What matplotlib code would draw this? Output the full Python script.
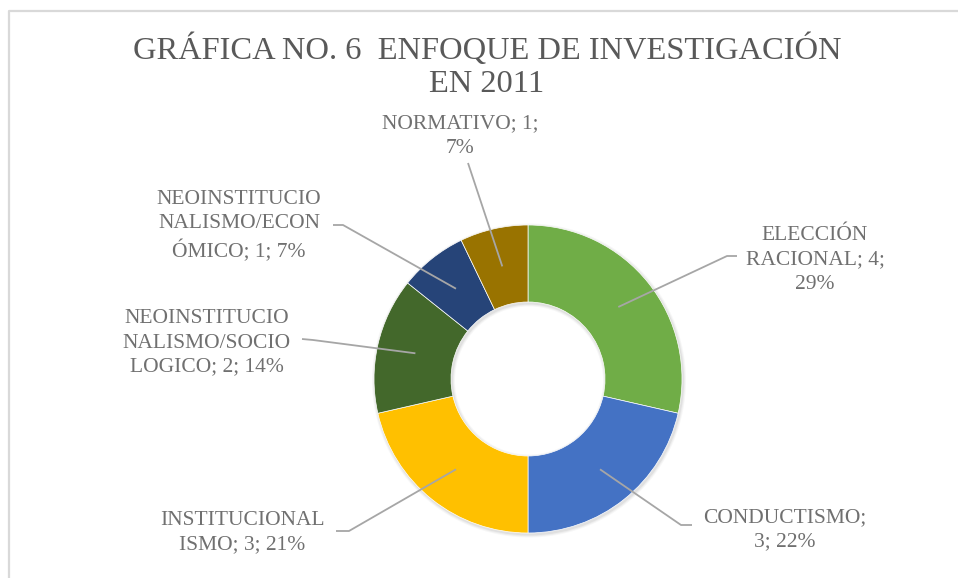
import matplotlib
matplotlib.use("Agg")
import matplotlib.pyplot as plt
from matplotlib.patches import Wedge
import numpy as np

# ---- data ----
categories = ["ELECCIÓN RACIONAL", "CONDUCTISMO", "INSTITUCIONALISMO",
              "NEOINSTITUCIONALISMO/SOCIOLOGICO", "NEOINSTITUCIONALISMO/ECONÓMICO",
              "NORMATIVO"]
values = [4, 3, 3, 2, 1, 1]
percents = ["29%", "22%", "21%", "14%", "7%", "7%"]
label_texts = ["ELECCIÓN\nRACIONAL; 4;\n29%",
               "CONDUCTISMO;\n3; 22%",
               "INSTITUCIONAL\nISMO; 3; 21%",
               "NEOINSTITUCIO\nNALISMO/SOCIO\nLOGICO; 2; 14%",
               "NEOINSTITUCIO\nNALISMO/ECON\nÓMICO; 1; 7%",
               "NORMATIVO; 1;\n7%"]
colors = ["#70AD47", "#4472C4", "#FFC000", "#43682B", "#264478", "#997300"]
title = "GRÁFICA NO. 6  ENFOQUE DE INVESTIGACIÓN\nEN 2011"

# ---- layout (pixel coordinates, y measured from top) ----
W, H = 958, 578
cx, cy = 528, 379
R = 154
label_pos = [(815, 260), (785, 530), (242, 533), (207, 343), (239, 226), (460, 136)]
# elbow segment (start near text, bend point) of each leader line
elbow = [((737, 256), (727, 256)),
         ((692, 525), (681, 525)),
         ((336, 531), (349, 531)),
         ((302, 339), (313, 340)),
         ((333, 225), (343, 225)),
         ((468, 163), (468, 163))]

FONT = ["Liberation Serif", "DejaVu Serif"]
TXT = "#707070"

fig = plt.figure(figsize=(W / 100, H / 100), dpi=100)
ax = fig.add_axes([0, 0, 1, 1])

def Y(y):
    return H - y

# faint shadow behind the ring
for k, a in [(3.0, 0.03), (2.0, 0.04), (1.0, 0.05)]:
    ax.add_patch(Wedge((cx + 1.0, Y(cy) - 1.5), R + k, 0, 360, width=R / 2 + 2 * k,
                       facecolor=(0, 0, 0, a), edgecolor="none", zorder=0))

wedges, _ = ax.pie(values, startangle=90, counterclock=False, radius=R,
                   center=(cx, Y(cy)), colors=colors,
                   wedgeprops=dict(width=R / 2, edgecolor="white", linewidth=0.5))
for w in wedges:
    w.set_zorder(1)
ax.set_xlim(0, W)
ax.set_ylim(0, H)
ax.set_aspect("equal")
ax.axis("off")

# leader lines anchored at mid-angle, mid-radius
total = sum(values)
start = 90.0
for i, v in enumerate(values):
    ang = start - 360.0 * v / total / 2
    start -= 360.0 * v / total
    rad = np.deg2rad(ang)
    ax_, ay_ = cx + 0.75 * R * np.cos(rad), Y(cy) + 0.75 * R * np.sin(rad)
    (x0, y0), (x1, y1) = elbow[i]
    ax.plot([x0, x1, ax_], [Y(y0), Y(y1), ay_], color="#A6A6A6", lw=1.3,
            solid_capstyle="butt", zorder=3)
    lx, ly = label_pos[i]
    ax.text(lx, Y(ly), label_texts[i], ha="center", va="center",
            fontsize=15.5, color=TXT, family=FONT, linespacing=1.37, zorder=4)

ax.text(487, Y(66), title, ha="center", va="center", fontsize=23.4,
        color="#595959", family=FONT, linespacing=1.2)

# chart frame (top and left edges visible)
ax.plot([9.5, 9.5, W + 5], [-5, Y(10.5), Y(10.5)], color="#D9D9D9", lw=1.6,
        clip_on=False)

fig.savefig("out.png", dpi=100)
